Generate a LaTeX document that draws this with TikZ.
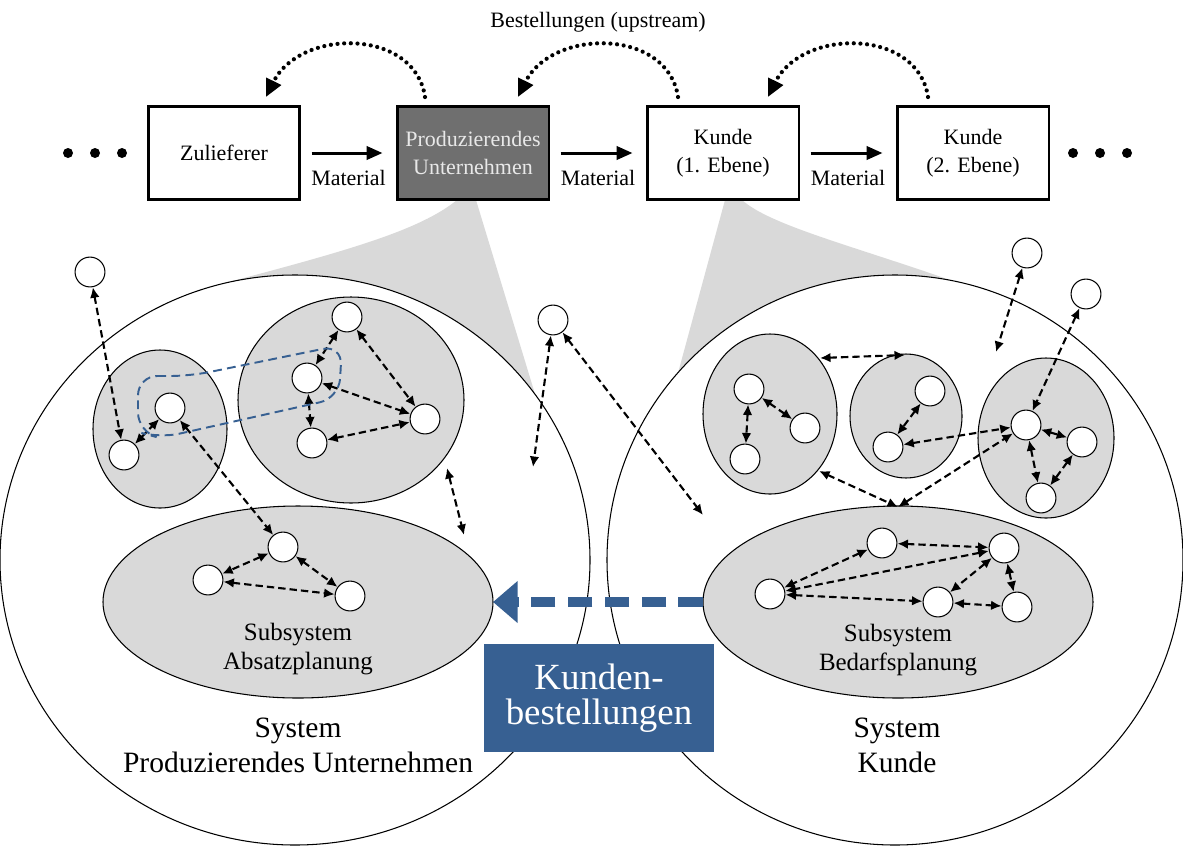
\documentclass[tikz,border=0pt]{standalone}
\usepackage{fontspec}
\setmainfont{Liberation Serif}
\usetikzlibrary{arrows.meta}
\definecolor{subgray}{HTML}{D9D9D9}
\definecolor{boxgray}{HTML}{6F6F6F}
\definecolor{lbl}{HTML}{E8E8E8}
\definecolor{kblue}{HTML}{376092}
\newcommand\fsA{\fontsize{12.5}{16}\selectfont}
\newcommand\fsB{\fontsize{14.2}{16}\selectfont}
\newcommand\fsC{\fontsize{16.8}{20}\selectfont}
\newcommand\fsD{\fontsize{21}{20}\selectfont}
\tikzset{
  sn/.style={circle, draw, fill=white, line width=0.6pt, minimum size=17pt, inner sep=0pt},
  sub/.style={draw, fill=subgray, line width=0.6pt},
  bigsys/.style={draw, fill=white, line width=0.6pt},
  link/.style={{Latex[length=6pt,width=5.5pt]}-{Latex[length=6pt,width=5.5pt]}, line width=1.2pt, dash pattern=on 4.2pt off 2.3pt},
  chainbox/.style={draw, line width=1.7pt, minimum width=86.5pt, minimum height=53pt, align=center, inner sep=0pt, font=\fsA},
  matarrow/.style={-{Triangle[length=9pt,width=7.5pt]}, line width=1.7pt, shorten <=5.7pt, shorten >=7.4pt},
  dotarrow/.style={-{Triangle[length=10pt,width=9pt]}, line width=2.4pt, line cap=round, dash pattern=on 0pt off 3.8pt},
  bluearr/.style={-{Triangle[length=14pt,width=23pt]}, kblue, line width=5.7pt, dash pattern=on 14pt off 7pt},
  blueline/.style={kblue, line width=1.1pt, dash pattern=on 5pt off 3pt},
  lbltext/.style={align=center, inner sep=0pt}
}
\begin{document}
\begin{tikzpicture}[x=0.02cm, y=-0.02cm]
\useasboundingbox (0,0) rectangle (1183,846);

% gray funnels
\fill[subgray] (457,200) .. controls (420,230) and (350,250) .. (225,283) -- (295,560) -- (535,394) -- (476,200) -- cycle;
\fill[subgray] (725,200) -- (678,373) -- (895,560) -- (950,280) .. controls (850,245) and (770,225) .. (742,200) -- cycle;

% big systems
\draw[bigsys] (295,560) ellipse [x radius=295, y radius=285];
\draw[bigsys] (895,560) ellipse [x radius=288, y radius=285];

% subsystems left
\draw[sub] (160,429) ellipse [x radius=67, y radius=79];
\draw[sub] (351,400) ellipse [x radius=113, y radius=103];
\draw[sub] (298,602) ellipse [x radius=195, y radius=96];
% subsystems right
\draw[sub] (770,414) ellipse [x radius=67, y radius=80];
\draw[sub] (906,416) ellipse [x radius=56, y radius=62];
\draw[sub] (1046,438) ellipse [x radius=68, y radius=80];
\draw[sub] (898,602) ellipse [x radius=195, y radius=96];

% texts
\node[lbltext, font=\fsB] (tA) at (298,649) {Subsystem\\Absatzplanung};
\node[lbltext, font=\fsB] (tB) at (898,650) {Subsystem\\Bedarfsplanung};
\node[lbltext, font=\fsC] (tS1) at (298,745) {System\\Produzierendes Unternehmen};
\node[lbltext, font=\fsC] (tS2) at (897,745) {System\\Kunde};

% small nodes left
\node[sn] (L0) at (90,272) {};
\node[sn] (L1) at (124,455) {};
\node[sn] (L2) at (170,408) {};
\node[sn] (L3) at (347,317) {};
\node[sn] (L4) at (307,378) {};
\node[sn] (L5) at (425,419) {};
\node[sn] (L6) at (312,443) {};
\node[sn] (L7) at (283,547) {};
\node[sn] (L8) at (208,580) {};
\node[sn] (L9) at (350,596) {};
\node[sn] (M) at (553,320) {};
% small nodes right
\node[sn] (R1) at (749,389) {};
\node[sn] (R2) at (805,428) {};
\node[sn] (R3) at (745,459) {};
\node[sn] (R4) at (930,391) {};
\node[sn] (R5) at (888,447) {};
\node[sn] (R6) at (1026,425) {};
\node[sn] (R7) at (1082,442) {};
\node[sn] (R8) at (1041,498) {};
\node[sn] (R9) at (1027,253) {};
\node[sn] (R10) at (1086,294) {};
\node[sn] (B1) at (882,543) {};
\node[sn] (B2) at (1004,548) {};
\node[sn] (B3) at (770,594) {};
\node[sn] (B4) at (938,602) {};
\node[sn] (B5) at (1017,607) {};

% free ends
\coordinate (c1) at (447,468);
\coordinate (c2) at (464,535);
\coordinate (c3) at (533,467);
\coordinate (c4) at (703,515);
\coordinate (c5) at (996,352);
\coordinate (c6) at (820,358);
\coordinate (c7) at (905,355);
\coordinate (c8) at (819,471);
\coordinate (c9) at (898,507);

% links left
\draw[link] (L0) -- (L1);
\draw[link] (L1) -- (L2);
\draw[link] (L2) -- (L7);
\draw[link] (L3) -- (L4);
\draw[link] (L3) -- (L5);
\draw[link] (L4) -- (L5);
\draw[link] (L4) -- (L6);
\draw[link] (L6) -- (L5);
\draw[link] (L7) -- (L8);
\draw[link] (L7) -- (L9);
\draw[link] (L8) -- (L9);
\draw[link] (c1) -- (c2);
\draw[link] (M) -- (c3);
\draw[link] (M) -- (c4);
% links right
\draw[link] (R1) -- (R3);
\draw[link] (R1) -- (R2);
\draw[link] (R4) -- (R5);
\draw[link] (R5) -- (R6);
\draw[link] (R6) -- (R7);
\draw[link] (R6) -- (R8);
\draw[link] (R7) -- (R8);
\draw[link] (R10) -- (R6);
\draw[link] (R9) -- (c5);
\draw[link] (c6) -- (c7);
\draw[link] (c8) -- (c9);
\draw[link] (c9) -- (R6);
\draw[link] (B1) -- (B3);
\draw[link] (B1) -- (B2);
\draw[link] (B2) -- (B3);
\draw[link] (B2) -- (B4);
\draw[link] (B2) -- (B5);
\draw[link] (B3) -- (B4);
\draw[link] (B4) -- (B5);

% blue dashed outline
\draw[blueline, rounded corners=11pt] (138,376) -- (190,376) -- (342,345) -- (339,398) -- (160,438) -- (138,432) -- cycle;

% blue arrow and box
\coordinate (ba1) at (703,602);
\coordinate (ba2) at (493,602);
\draw[bluearr] (ba1) -- (ba2);
\node[fill=kblue, text=white, font=\fsD, align=center, minimum width=130.9pt, minimum height=61.5pt, inner sep=0pt] (KB) at (599,698) {Kunden-\\bestellungen};

% top chain
\node[chainbox] (Z) at (224,153) {Zulieferer};
\node[chainbox, fill=boxgray, text=lbl] (P) at (473,153) {Produzierendes\\Unternehmen};
\node[chainbox] (K1) at (723,153) {Kunde\\(1. Ebene)};
\node[chainbox] (K2) at (973,153) {Kunde\\(2. Ebene)};

\draw[matarrow] (Z.east) -- (P.west) node[midway, yshift=-14.2pt, font=\fsA] {Material};
\draw[matarrow] (P.east) -- (K1.west) node[midway, yshift=-14.2pt, font=\fsA] {Material};
\draw[matarrow] (K1.east) -- (K2.west) node[midway, yshift=-14.2pt, font=\fsA] {Material};

\foreach \x in {68,95,122,1073,1100,1127} \fill (\x,153) circle [radius=5];

\coordinate (a1s) at (425,97);
\coordinate (a1e) at (266,97);
\coordinate (a2s) at (678,97);
\coordinate (a2e) at (518,97);
\coordinate (a3s) at (928,97);
\coordinate (a3e) at (768,97);
\draw[dotarrow] (a1s) .. controls (415,28) and (300,28) .. (a1e);
\draw[dotarrow] (a2s) .. controls (668,28) and (552,28) .. (a2e);
\draw[dotarrow] (a3s) .. controls (918,28) and (802,28) .. (a3e);

\node[font=\fsA] (BU) at (598,22) {Bestellungen (upstream)};
\end{tikzpicture}
\end{document}
